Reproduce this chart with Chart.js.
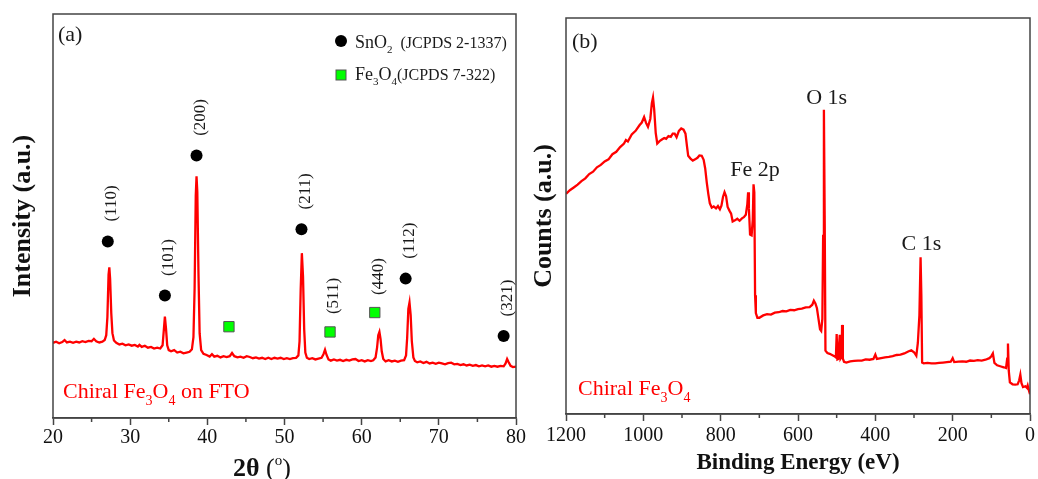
<!DOCTYPE html>
<html>
<head>
<meta charset="utf-8">
<script src="https://cdn.jsdelivr.net/npm/chart.js@4.4.0/dist/chart.umd.min.js"></script>
<style>
body { margin: 0; background: #fff; }
#wrap { position: relative; width: 1038px; height: 479px; overflow: hidden; }
canvas { position: absolute; top: 0; }
#xrd { left: 0; }
#xps { left: 520px; }
</style>
</head>
<body>
<div id="wrap">
<canvas id="xps" width="518" height="479"></canvas>
<canvas id="xrd" width="540" height="479"></canvas>
</div>
<script>
const SERIF = '"Liberation Serif", "Times New Roman", serif';

// (a) XRD pattern, 2theta (deg) vs intensity (a.u.)
const xrdAngle = [
  20.0, 20.4, 20.8, 21.2, 21.5, 21.8, 22.2, 22.6, 23.0, 23.4, 23.8, 24.2, 24.6, 25.0, 25.3, 25.6, 26.0, 26.4, 26.7, 26.9,
  27.05, 27.2, 27.3, 27.4, 27.55, 27.7, 27.9, 28.2, 28.6, 29.0, 29.4, 29.8, 30.2, 30.6, 31.0, 31.2, 31.5, 31.9, 32.3, 32.7,
  33.1, 33.5, 33.9, 34.2, 34.35, 34.5, 34.65, 34.8, 35.0, 35.3, 35.7, 36.1, 36.5, 36.9, 37.3, 37.7, 38.0, 38.2, 38.35, 38.5,
  38.6, 38.7, 38.85, 39.0, 39.2, 39.5, 39.9, 40.3, 40.6, 40.9, 41.3, 41.7, 42.1, 42.5, 42.9, 43.2, 43.5, 43.9, 44.3, 44.7,
  45.1, 45.5, 45.9, 46.3, 46.7, 47.1, 47.5, 47.9, 48.3, 48.7, 49.1, 49.5, 49.9, 50.3, 50.7, 51.1, 51.5, 51.8, 51.95, 52.1,
  52.25, 52.4, 52.55, 52.7, 52.9, 53.2, 53.6, 54.0, 54.4, 54.8, 55.05, 55.25, 55.45, 55.7, 56.0, 56.4, 56.8, 57.2, 57.6, 58.0,
  58.4, 58.8, 59.2, 59.6, 60.0, 60.4, 60.8, 61.2, 61.5, 61.8, 62.0, 62.15, 62.3, 62.45, 62.6, 62.8, 63.1, 63.5, 63.9, 64.3,
  64.7, 65.1, 65.5, 65.75, 65.9, 66.05, 66.2, 66.35, 66.5, 66.7, 66.9, 67.2, 67.6, 68.0, 68.4, 68.8, 69.2, 69.6, 70.0, 70.4,
  70.8, 71.2, 71.6, 72.0, 72.4, 72.8, 73.2, 73.6, 74.0, 74.4, 74.8, 75.2, 75.6, 76.0, 76.4, 76.8, 77.2, 77.6, 78.0, 78.4,
  78.65, 78.85, 79.05, 79.3, 79.6, 80.0
];
const xrdIntensity = [
  18.6, 18.9, 18.5, 18.8, 19.3, 18.7, 18.9, 18.6, 18.9, 18.7, 19.0, 18.8, 19.1, 19.0, 19.6, 19.0, 18.7, 18.9, 19.3, 20.5,
  25.0, 35.5, 37.3, 34.5, 26.0, 21.0, 19.2, 18.6, 18.2, 18.4, 18.0, 18.2, 17.9, 18.1, 17.7, 18.1, 17.6, 17.9, 17.4, 17.6,
  17.2, 17.4, 17.2, 18.0, 21.5, 25.1, 22.0, 18.0, 16.8, 16.5, 16.8, 16.2, 16.4, 16.0, 16.2, 16.4, 17.0, 20.0, 32.0, 55.0,
  59.8, 56.0, 36.0, 21.0, 16.8, 15.9, 15.6, 15.2, 15.8, 15.2, 15.4, 15.0, 15.3, 15.1, 15.3, 16.1, 15.3, 15.0, 15.2, 14.9,
  15.3, 15.1, 14.8, 15.0, 14.7, 14.9, 14.6, 14.9, 14.6, 14.9, 14.7, 14.9, 14.6, 14.8, 14.6, 14.8, 14.9, 15.5, 19.0, 32.0,
  40.8, 35.0, 22.0, 16.2, 14.9, 14.6, 14.8, 14.5, 14.7, 14.9, 15.8, 16.9, 15.6, 14.5, 14.2, 14.5, 14.2, 14.4, 14.1, 14.4,
  14.2, 14.5, 14.6, 14.1, 14.3, 14.0, 14.3, 14.1, 14.3, 15.0, 17.5, 20.5, 21.3, 19.5, 16.5, 14.6, 14.0, 14.3, 14.0, 14.2,
  13.9, 14.2, 14.3, 15.5, 20.0, 27.0, 28.6, 25.5, 19.0, 15.0, 14.1, 13.8, 14.0, 13.6, 13.9, 13.5, 13.7, 13.4, 13.7, 13.5,
  13.3, 13.6, 13.7, 13.3, 13.4, 13.1, 13.3, 13.0, 13.2, 12.9, 13.1, 12.8, 13.0, 12.8, 13.0, 12.7, 12.9, 12.7, 12.9, 12.8,
  13.5, 14.6, 13.8, 12.9, 12.6, 12.7
];
const xrdTickLabels = [20, 30, 40, 50, 60, 70, 80];

// reflection markers
const snO2Angle = [27.1, 34.5, 38.6, 52.2, 65.7, 78.4];
const snO2Mark = [43.7, 30.3, 65.0, 46.7, 34.5, 20.3];
const snO2Hkl = ['(110)', '(101)', '(200)', '(211)', '(112)', '(321)'];
const fe3o4Angle = [42.8, 55.9, 61.7];
const fe3o4Mark = [22.6, 21.3, 26.1];
const fe3o4Hkl = ['', '(511)', '(440)'];

// (b) XPS survey, binding energy (eV) vs counts (a.u.)
const xpsEnergy = [
  1200, 1190, 1180, 1170, 1160, 1150, 1140, 1130, 1120, 1110, 1100, 1090, 1080, 1070, 1060, 1050, 1045, 1040, 1030, 1020,
  1010, 1004, 998, 993, 988, 982, 978, 975, 972, 968, 964, 958, 952, 946, 941, 935, 929, 924, 919, 914,
  908, 902, 896, 891, 887, 884, 878, 872, 866, 860, 855, 849, 844, 840, 836, 832, 828, 823, 818, 812,
  807, 802, 798, 794, 790, 786, 782, 777, 773, 769, 763, 757, 751, 745, 740, 735, 731, 729, 727, 724,
  720, 717, 715, 713, 711, 709, 705, 700, 690, 680, 670, 660, 650, 640, 630, 620, 610, 600, 590, 580,
  570, 563, 559, 555, 551, 547, 543, 540, 537, 535, 533, 531, 529, 524, 518, 512, 506, 502, 500, 498,
  496, 492, 490, 487, 486, 484, 481, 475, 465, 455, 445, 435, 425, 415, 405, 400, 396, 385, 375, 365,
  355, 345, 335, 325, 315, 307, 300, 294, 290, 286, 283, 281, 279, 275, 265, 255, 245, 235, 225, 215,
  205, 200, 196, 185, 175, 165, 155, 145, 135, 125, 115, 105, 100, 96, 92, 85, 75, 68, 62, 59,
  57, 55, 52, 45, 38, 32, 28, 25, 22, 18, 12, 8, 6, 3, 0
];
const xpsCounts = [
  55.6, 56.5, 57.2, 57.9, 58.8, 59.5, 60.6, 61.2, 62.3, 62.9, 63.8, 64.3, 65.6, 66.2, 67.4, 68.3, 69.2, 68.8, 70.6, 71.5,
  72.9, 73.6, 75.0, 73.5, 72.5, 74.5, 78.5, 79.9, 77.0, 71.0, 68.3, 68.9, 69.3, 69.7, 69.5, 70.2, 70.0, 70.8, 70.8, 69.9,
  71.5, 72.1, 71.8, 70.8, 67.5, 65.2, 64.5, 64.0, 64.3, 64.7, 65.3, 65.2, 64.2, 62.0, 58.5, 55.6, 53.2, 52.1, 52.4, 51.9,
  52.5, 51.7, 52.6, 54.8, 56.0, 55.0, 52.3, 51.3, 50.6, 48.6, 48.9, 49.3, 48.8, 49.4, 49.7, 50.3, 53.0, 56.0, 52.0, 45.3,
  45.1, 49.0, 58.0, 56.0, 30.0, 25.5, 24.3, 24.3, 24.9, 25.2, 25.1, 25.6, 25.7, 26.0, 25.9, 26.3, 26.2, 26.5, 26.6, 26.9,
  27.0, 27.6, 28.6, 27.9, 26.7, 24.0, 21.4, 21.0, 24.0, 45.0, 76.8, 50.0, 16.0, 15.4, 15.2, 14.9, 14.6, 14.3, 20.2, 13.8,
  13.9, 20.0, 14.0, 14.5, 22.5, 14.0, 13.2, 13.0, 13.3, 13.4, 13.5, 13.5, 13.8, 13.7, 13.9, 15.0, 13.9, 14.1, 14.3, 14.4,
  14.6, 14.9, 15.0, 15.3, 15.8, 16.1, 15.6, 14.7, 18.0, 25.0, 39.6, 30.0, 13.0, 12.8, 12.9, 12.8, 12.8, 12.9, 13.0, 13.1,
  13.2, 14.1, 13.1, 13.2, 13.3, 13.2, 13.5, 13.4, 13.6, 13.5, 13.7, 14.1, 14.6, 15.3, 12.9, 12.3, 12.0, 11.8, 11.6, 14.0,
  17.8, 11.0, 8.0, 7.5, 7.4, 7.5, 8.5, 9.9, 7.8, 6.8, 7.0, 6.6, 7.2, 6.0, 5.0
];
const xpsTickLabels = [0, 200, 400, 600, 800, 1000, 1200];
const xpsPeakNames = ['Fe 2p', 'O 1s', 'C 1s'];
const xpsPeakEnergy = [711, 526, 281];
const xpsPeakLabelY = [61.6, 79.8, 42.9];

function toPoints(xs, ys) {
  return xs.map((x, i) => ({ x: x, y: ys[i] }));
}

// text made of pieces, some of them sub- or superscript
function drawRich(ctx, parts, x, y, size, color) {
  ctx.fillStyle = color;
  ctx.textAlign = 'left';
  ctx.textBaseline = 'alphabetic';
  parts.forEach(p => {
    const small = p.sub || p.sup;
    const fs = p.size || (small ? Math.round(size * 0.62) : size);
    ctx.font = (p.bold ? 'bold ' : '') + fs + 'px ' + SERIF;
    let dy = 0;
    if (p.sub) dy = size * 0.3;
    if (p.sup) dy = -size * 0.42;
    ctx.fillText(p.t, x, y + dy);
    x += ctx.measureText(p.t).width;
  });
}

function drawFrame(ctx, area) {
  ctx.strokeStyle = '#444';
  ctx.lineWidth = 1.5;
  ctx.strokeRect(area.left, area.top, area.right - area.left, area.bottom - area.top);
}

function drawMinorTicks(ctx, scale, area, step, major) {
  ctx.strokeStyle = '#444';
  ctx.lineWidth = 1.5;
  for (let v = scale.min; v <= scale.max; v += step) {
    if (v % major === 0) continue;
    const px = scale.getPixelForValue(v);
    ctx.beginPath();
    ctx.moveTo(px, area.bottom);
    ctx.lineTo(px, area.bottom + 4);
    ctx.stroke();
  }
}

function drawUpText(ctx, text, x, y) {
  ctx.save();
  ctx.translate(x, y);
  ctx.rotate(-Math.PI / 2);
  ctx.fillText(text, 0, 0);
  ctx.restore();
}

const xrdDecor = {
  id: 'xrdDecor',
  afterDraw(chart) {
    const ctx = chart.ctx;
    const area = chart.chartArea;
    const x = chart.scales.x;
    const y = chart.scales.y;
    ctx.save();
    drawFrame(ctx, area);
    drawMinorTicks(ctx, x, area, 5, 10);

    // hkl labels above the markers
    ctx.font = '17px ' + SERIF;
    ctx.fillStyle = '#1a1a1a';
    ctx.textAlign = 'center';
    ctx.textBaseline = 'middle';
    snO2Hkl.forEach((t, i) => {
      drawUpText(ctx, t, x.getPixelForValue(snO2Angle[i]) + 4, y.getPixelForValue(snO2Mark[i]) - 38);
    });
    fe3o4Hkl.forEach((t, i) => {
      if (t) drawUpText(ctx, t, x.getPixelForValue(fe3o4Angle[i]) + 4, y.getPixelForValue(fe3o4Mark[i]) - 36);
    });

    // panel letter
    ctx.font = '22px ' + SERIF;
    ctx.textAlign = 'left';
    ctx.fillText('(a)', area.left + 5, area.top + 21);

    // legend
    const lx = area.left + 288;
    ctx.fillStyle = '#000';
    ctx.beginPath();
    ctx.arc(lx, area.top + 27, 6, 0, Math.PI * 2);
    ctx.fill();
    ctx.fillStyle = '#00ff00';
    ctx.strokeStyle = '#555';
    ctx.lineWidth = 1;
    ctx.fillRect(lx - 5, area.top + 56, 10, 10);
    ctx.strokeRect(lx - 5, area.top + 56, 10, 10);
    drawRich(ctx, [{ t: 'SnO' }, { t: '2', sub: true, size: 11 }, { t: '  (JCPDS 2-1337)', size: 16 }],
      lx + 14, area.top + 34, 18, '#1a1a1a');
    drawRich(ctx, [{ t: 'Fe' }, { t: '3', sub: true, size: 11 }, { t: 'O' }, { t: '4', sub: true, size: 11 }, { t: '(JCPDS 7-322)', size: 16 }],
      lx + 14, area.top + 66, 18, '#1a1a1a');

    // sample name
    drawRich(ctx, [{ t: 'Chiral Fe' }, { t: '3', sub: true }, { t: 'O' }, { t: '4', sub: true }, { t: ' on FTO' }],
      area.left + 10, area.bottom - 20, 22, '#ff0000');

    // x title 2θ (°)
    drawRich(ctx, [{ t: '2θ', bold: true }, { t: ' (' }, { t: 'o', sup: true, size: 15 }, { t: ')' }],
      233, 476, 26, '#111');
    ctx.restore();
  }
};

const xpsDecor = {
  id: 'xpsDecor',
  afterDraw(chart) {
    const ctx = chart.ctx;
    const area = chart.chartArea;
    const x = chart.scales.x;
    const y = chart.scales.y;
    ctx.save();
    drawFrame(ctx, area);
    drawMinorTicks(ctx, x, area, 100, 200);

    ctx.font = '22px ' + SERIF;
    ctx.fillStyle = '#1a1a1a';
    ctx.textAlign = 'center';
    ctx.textBaseline = 'middle';
    xpsPeakNames.forEach((t, i) => {
      ctx.fillText(t, x.getPixelForValue(xpsPeakEnergy[i]), y.getPixelForValue(xpsPeakLabelY[i]));
    });

    ctx.textAlign = 'left';
    ctx.fillText('(b)', area.left + 6, area.top + 24);

    drawRich(ctx, [{ t: 'Chiral Fe' }, { t: '3', sub: true }, { t: 'O' }, { t: '4', sub: true }],
      area.left + 12, area.bottom - 19, 22, '#ff0000');
    ctx.restore();
  }
};

function axisX(min, max, step, labels, reverse, height, pad) {
  return {
    type: 'linear',
    min: min,
    max: max,
    reverse: reverse,
    afterFit: s => { s.height = height; },
    ticks: {
      stepSize: step,
      autoSkip: false,
      maxRotation: 0,
      padding: pad,
      color: '#111',
      font: { family: SERIF, size: 20 },
      callback: v => labels.includes(v) ? String(v) : ''
    },
    grid: {
      drawOnChartArea: false,
      tickLength: 7,
      tickWidth: 1.5,
      tickColor: c => (c.tick && labels.includes(c.tick.value)) ? '#444' : 'rgba(0,0,0,0)'
    },
    border: { color: '#444', width: 1.5 }
  };
}

function axisY(title, width, pad) {
  return {
    min: 0,
    max: 100,
    afterFit: s => { s.width = width; },
    ticks: { display: false },
    grid: { display: false },
    border: { display: false },
    title: {
      display: true,
      text: title,
      color: '#111',
      font: { family: SERIF, size: 26, weight: 'bold' },
      padding: { top: pad, bottom: 0 }
    }
  };
}

new Chart(document.getElementById('xrd'), {
  type: 'line',
  data: {
    datasets: [
      {
        data: toPoints(xrdAngle, xrdIntensity),
        borderColor: '#ff0000',
        borderWidth: 2.3,
        pointRadius: 0,
        tension: 0
      },
      {
        data: toPoints(snO2Angle, snO2Mark),
        showLine: false,
        pointStyle: 'circle',
        pointRadius: 6,
        backgroundColor: '#000',
        borderWidth: 0
      },
      {
        data: toPoints(fe3o4Angle, fe3o4Mark),
        showLine: false,
        pointStyle: 'rect',
        pointRadius: 7.3,
        backgroundColor: '#00ff00',
        borderColor: '#555',
        borderWidth: 1
      }
    ]
  },
  options: {
    responsive: false,
    animation: false,
    events: [],
    layout: { padding: { left: 0, top: 14, right: 24, bottom: 0 } },
    plugins: { legend: { display: false }, tooltip: { enabled: false } },
    scales: {
      x: axisX(20, 80, 5, xrdTickLabels, false, 61, 1),
      y: axisY('Intensity (a.u.)', 53, 8)
    }
  },
  plugins: [xrdDecor]
});

new Chart(document.getElementById('xps'), {
  type: 'line',
  data: {
    datasets: [
      {
        data: toPoints(xpsEnergy, xpsCounts),
        borderColor: '#ff0000',
        borderWidth: 2.3,
        pointRadius: 0,
        tension: 0
      }
    ]
  },
  options: {
    responsive: false,
    animation: false,
    events: [],
    layout: { padding: { left: 0, top: 18, right: 4, bottom: 0 } },
    plugins: { legend: { display: false }, tooltip: { enabled: false } },
    scales: {
      x: Object.assign(axisX(0, 1200, 100, xpsTickLabels, true, 65, 3), {
        title: {
          display: true,
          text: 'Binding Energy (eV)',
          color: '#111',
          font: { family: SERIF, size: 23, weight: 'bold' },
          padding: { top: 0, bottom: 2 }
        }
      }),
      y: axisY('Counts (a.u.)', 46, 9)
    }
  },
  plugins: [xpsDecor]
});
</script>
</body>
</html>
